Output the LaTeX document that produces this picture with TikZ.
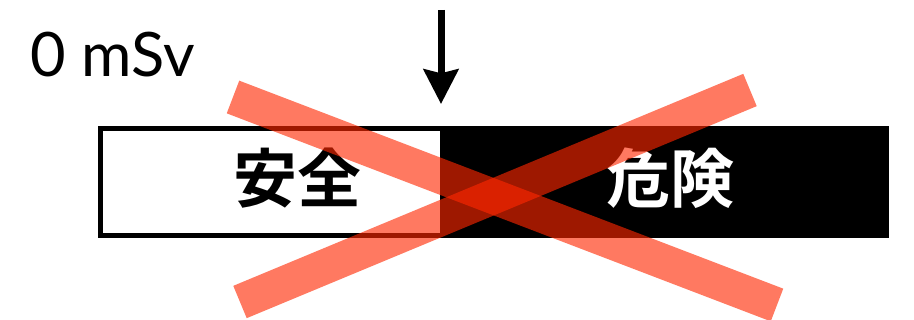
\documentclass[tikz,border=0pt]{standalone}
\usepackage{fontspec}
\usepackage{tikz}
\usetikzlibrary{arrows.meta,positioning,calc}
\setmainfont{Lato}
\newfontfamily\jpfont{Noto Sans CJK JP Bold}
\definecolor{cross}{RGB}{255,39,0}

\begin{document}
\begin{tikzpicture}[x=0.75pt,y=-0.75pt,every node/.style={inner sep=0pt,font=\fontsize{46}{50}\selectfont},barlabel/.style={font=\jpfont\fontsize{48}{52}\selectfont},crossline/.style={draw=cross,line width=26.25pt,opacity=0.62},>={Stealth[length=26pt,width=26pt,inset=3pt]}]
\useasboundingbox (0,0) rectangle (914,320);
\fill[black] (441,126) rectangle (889,238);
\draw[line width=3.75pt] (100,128.5) rectangle (442,235.5);
\node[anchor=base west] (zero) at (30,77) {0 mSv};
\node[barlabel] (safe) at (297,178) {安全};
\node[barlabel,text=white] (danger) at (670,178) {危険};
\coordinate (top) at (441,10); \coordinate (limit) at (441,104);
\draw[->,line width=5.25pt] (top)--(limit);
\coordinate (a1) at (233,97); \coordinate (a2) at (777,305);
\coordinate (b1) at (240,302); \coordinate (b2) at (750,90);
\draw[crossline] (a1)--(a2); \draw[crossline] (b1)--(b2);
\end{tikzpicture}
\end{document}
